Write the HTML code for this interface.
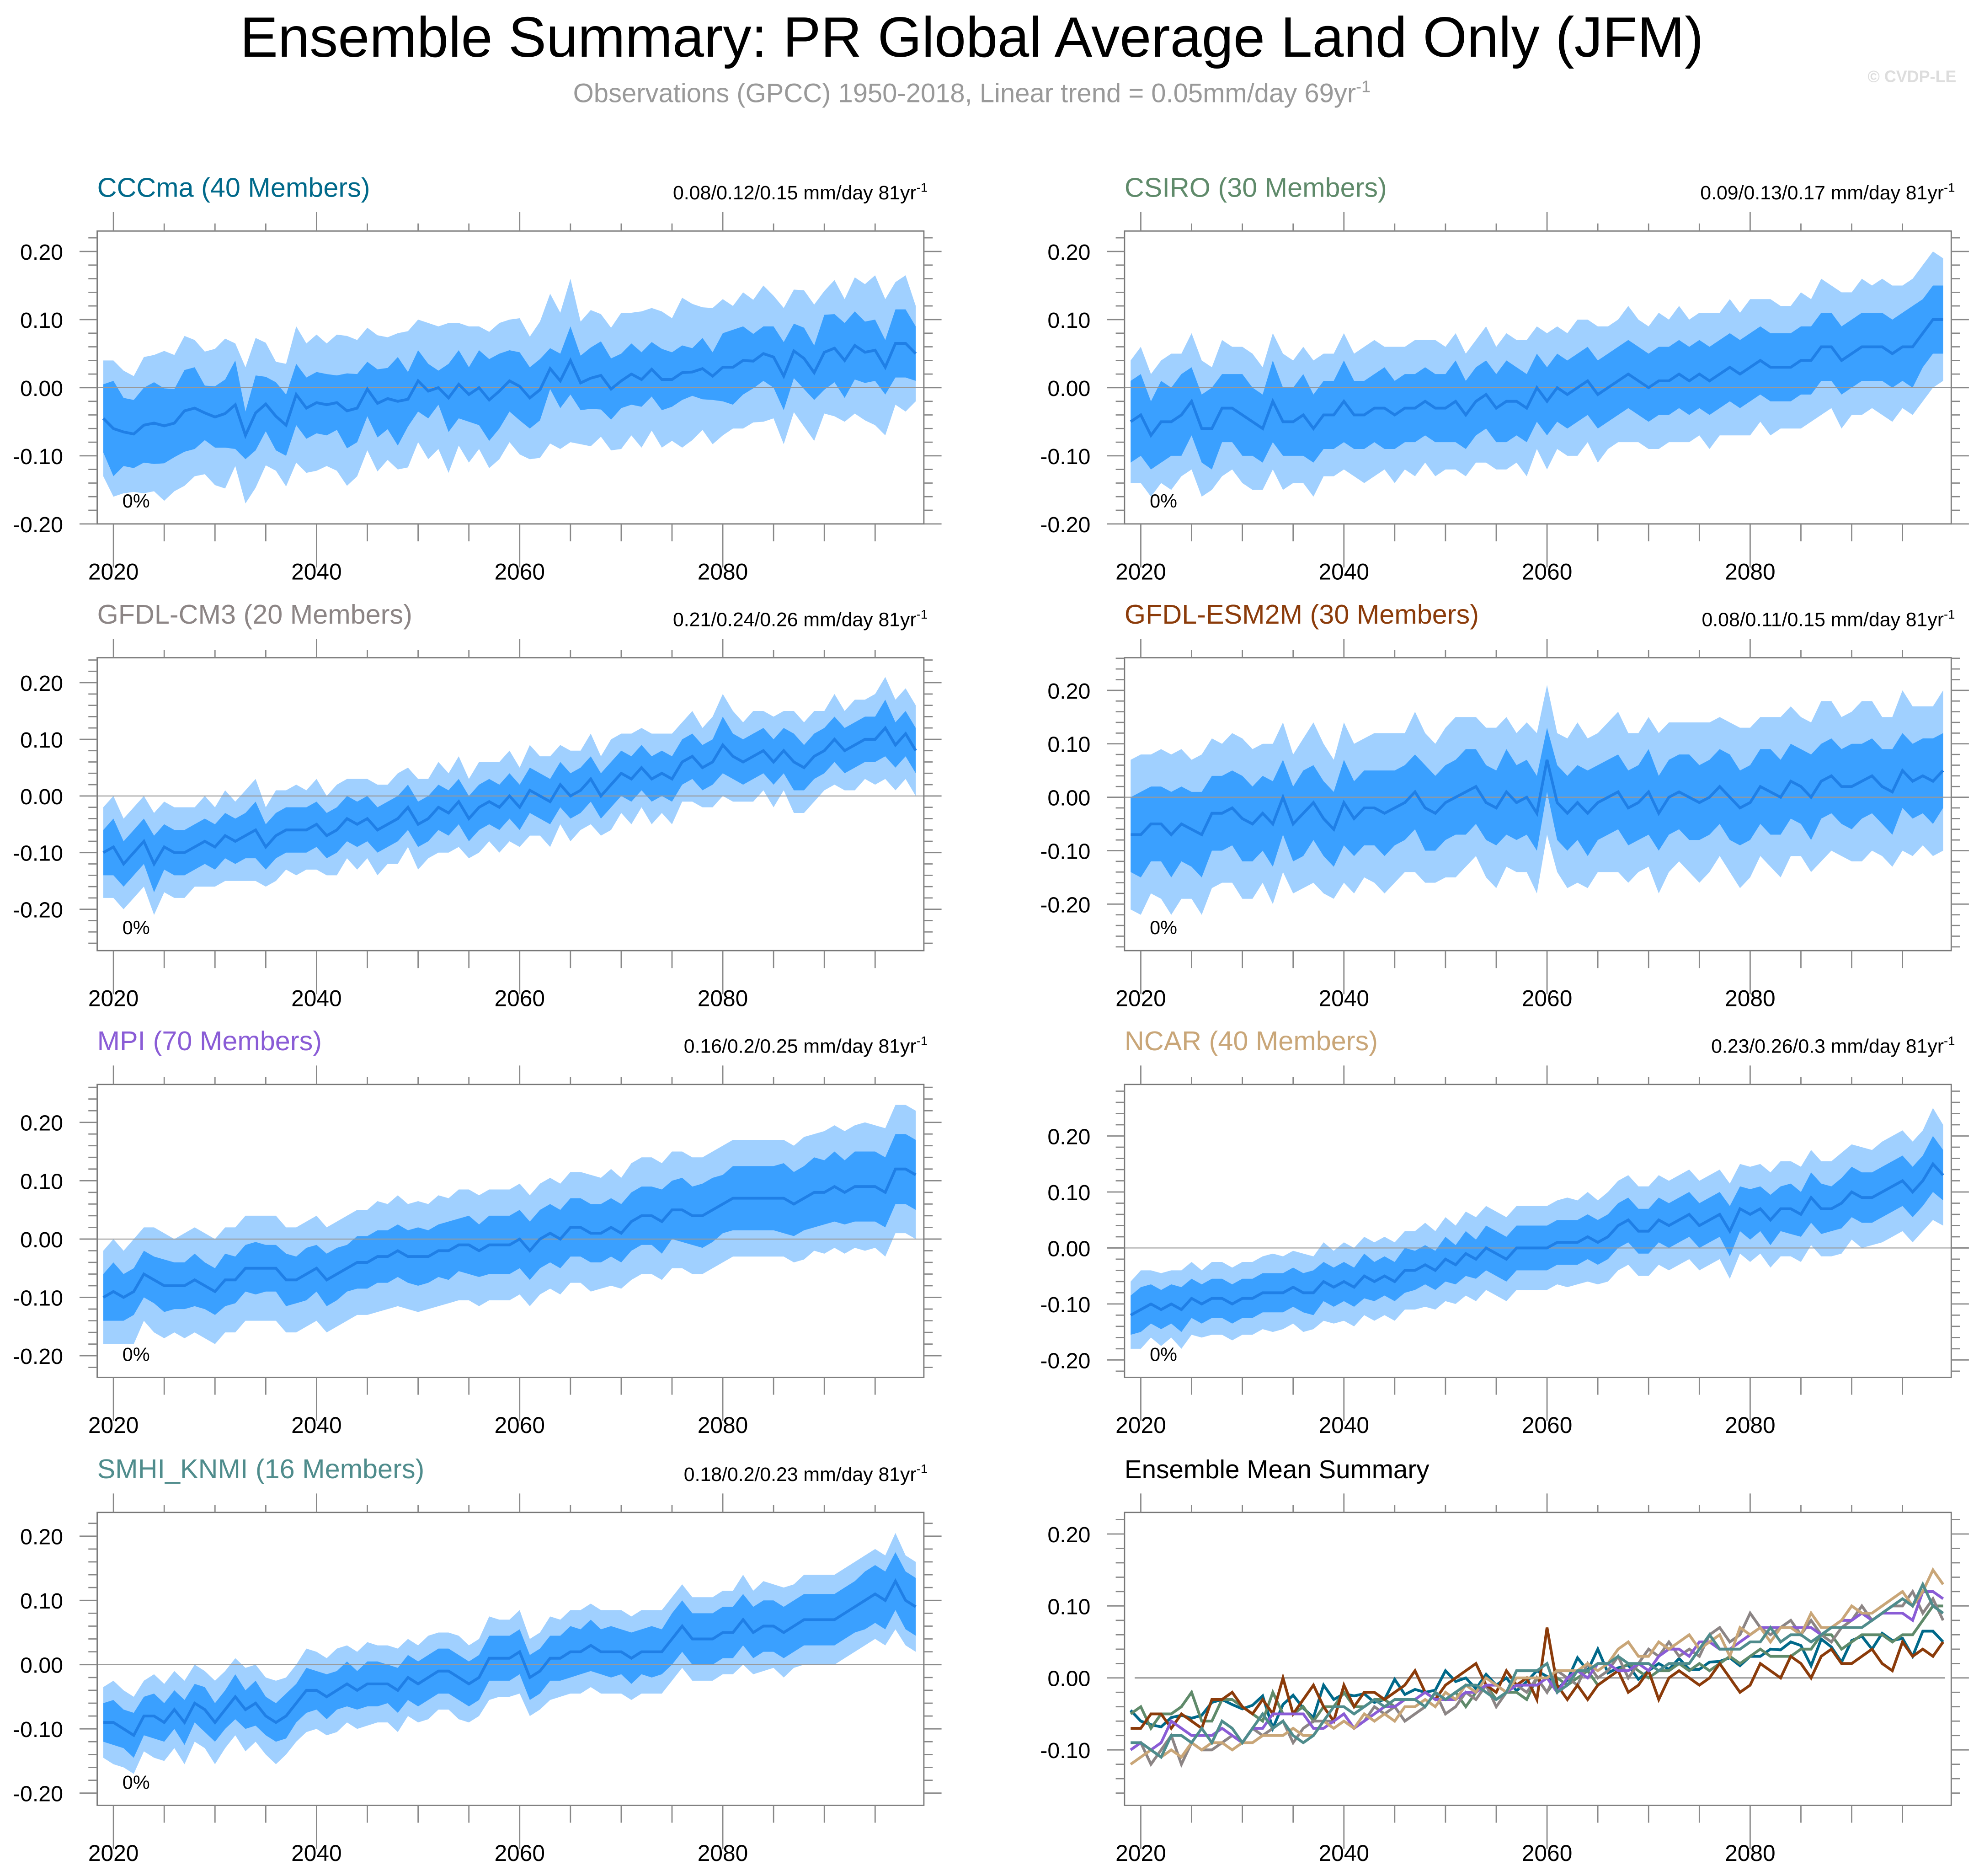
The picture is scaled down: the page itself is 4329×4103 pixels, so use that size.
<!DOCTYPE html>
<html><head><meta charset="utf-8"><style>
html,body{margin:0;padding:0;background:#fff}
svg{display:block}
text{font-family:"Liberation Sans",sans-serif}
</style></head><body>
<svg id="chart" xmlns="http://www.w3.org/2000/svg" width="4329" height="4103" viewBox="0 0 1568 1486" preserveAspectRatio="none">
<rect x="0" y="0" width="1568" height="1486" fill="#fff"/>
<text x="770" y="45" font-size="45" text-anchor="middle" fill="#000">Ensemble Summary: PR Global Average Land Only (JFM)</text>
<text x="770" y="81" font-size="21" text-anchor="middle" fill="#999">Observations (GPCC) 1950-2018, Linear trend = 0.05mm/day 69yr<tspan dy="-8" font-size="13">-1</tspan></text>
<text x="1550" y="65" font-size="13" font-weight="bold" text-anchor="end" fill="#ddd">© CVDP-LE</text>
<g id="panels"></g>
</svg>
<script>
// ---- data (years 2019-2099) ----
const startYear = 2019;
const xTicks = [2020, 2040, 2060, 2080];
const yTickLabels = ["-0.20","-0.10","0.00","0.10","0.20"];
const modelNames = ["CCCma (40 Members)","CSIRO (30 Members)","GFDL-CM3 (20 Members)","GFDL-ESM2M (30 Members)","MPI (70 Members)","NCAR (40 Members)","SMHI_KNMI (16 Members)"];
const trendLabels = ["0.08/0.12/0.15 mm/day 81yr","0.09/0.13/0.17 mm/day 81yr","0.21/0.24/0.26 mm/day 81yr","0.08/0.11/0.15 mm/day 81yr","0.16/0.2/0.25 mm/day 81yr","0.23/0.26/0.3 mm/day 81yr","0.18/0.2/0.23 mm/day 81yr"];
const modelColors = ["#00698a","#5f8a6a","#8c8585","#8b3b0a","#8a5cd6","#c9a678","#4f8c8c"];

const meanCCCma = [-.045,-.06,-.065,-.068,-.055,-.052,-.056,-.052,-.034,-.03,
-.037,-.043,-.038,-.025,-.07,-.037,-.024,-.042,-.055,-.01,
-.03,-.022,-.025,-.022,-.034,-.03,-.002,-.023,-.016,-.02,
-.017,.01,-.005,0,-.015,.005,-.01,0,-.018,-.005,
.01,.002,-.015,-.003,.028,.01,.04,.007,.014,.018,
-.002,.01,.02,.012,.027,.012,.012,.022,.023,.028,
.017,.03,.03,.04,.039,.05,.045,.017,.054,.043,
.022,.052,.058,.04,.062,.052,.055,.03,.065,.065,.05];
const innerCCCma = [.05,.07,.05,.05,.055,.06,.055,.05,.06,.06,.04,.045,.05,.065,.035,.055,.04,.05,.045,.045,
.045,.045,.045,.04,.055,.05,.04,.05,.045,.065,.04,.045,.04,.025,.05,.05,.04,.055,.06,.055,
.045,.05,.045,.045,.03,.04,.05,.04,.045,.05,.045,.04,.045,.04,.04,.045,.04,.04,.035,.045,
.035,.05,.055,.05,.04,.04,.045,.05,.04,.045,.04,.055,.05,.055,.05,.045,.045,.04,.05,.05,.04];
const outerCCCma = [.085,.10,.09,.085,.10,.10,.11,.10,.11,.10,.09,.10,.11,.09,.10,.11,.09,.08,.09,.10,
.095,.10,.09,.10,.11,.10,.09,.10,.09,.10,.10,.09,.10,.09,.11,.09,.10,.09,.10,.10,
.09,.10,.09,.10,.11,.10,.12,.09,.10,.09,.09,.10,.09,.10,.09,.10,.09,.11,.10,.09,
.10,.10,.09,.10,.09,.10,.09,.10,.09,.10,.10,.09,.10,.09,.10,.10,.11,.10,.09,.10,.07];

const meanCSIRO = [-.05,-.04,-.07,-.05,-.05,-.04,-.02,-.06,-.06,-.03,
-.03,-.04,-.05,-.06,-.02,-.05,-.05,-.04,-.06,-.04,
-.04,-.02,-.04,-.04,-.03,-.03,-.04,-.03,-.03,-.02,
-.03,-.03,-.02,-.04,-.02,-.01,-.03,-.02,-.02,-.03,
0,-.02,0,-.01,0,.01,-.01,0,.01,.02,
.01,0,.01,.01,.02,.01,.02,.01,.02,.03,
.02,.03,.04,.03,.03,.03,.04,.04,.06,.06,
.04,.05,.06,.06,.06,.05,.06,.06,.08,.10,.10];
const innerCSIRO = [.06,.06,.05,.06,.05,.06,.05,.05,.06,.05,.05,.06,.05,.05,.06,.05,.05,.06,.05,.05,
.05,.06,.05,.05,.05,.06,.05,.05,.05,.05,.05,.05,.06,.05,.05,.05,.05,.06,.05,.05,
.05,.05,.05,.05,.05,.05,.05,.05,.05,.05,.05,.05,.05,.05,.05,.05,.05,.05,.05,.05,
.05,.05,.05,.05,.05,.05,.05,.05,.05,.05,.05,.05,.05,.05,.05,.05,.05,.06,.05,.05,.05];
const outerCSIRO = [.09,.10,.09,.09,.10,.09,.10,.10,.09,.10,.09,.10,.10,.09,.10,.10,.09,.10,.10,.09,
.09,.10,.09,.10,.10,.09,.10,.09,.10,.09,.10,.09,.10,.09,.09,.10,.09,.10,.09,.10,
.09,.10,.09,.09,.10,.09,.10,.09,.09,.10,.09,.09,.10,.09,.10,.09,.09,.10,.09,.10,
.09,.10,.09,.10,.09,.09,.10,.09,.10,.09,.10,.09,.10,.09,.10,.10,.09,.10,.10,.10,.09];

const meanCM3 = [-.10,-.09,-.12,-.10,-.08,-.12,-.09,-.10,-.10,-.09,
-.08,-.09,-.07,-.08,-.07,-.06,-.09,-.07,-.06,-.06,
-.06,-.05,-.07,-.06,-.04,-.05,-.04,-.06,-.05,-.04,
-.02,-.05,-.04,-.02,-.03,-.01,-.04,-.02,-.01,-.02,
0,-.02,.01,0,-.01,.02,0,.01,.03,0,
.02,.04,.03,.05,.03,.04,.03,.06,.07,.05,
.06,.09,.07,.06,.07,.08,.06,.08,.06,.05,
.07,.08,.10,.08,.09,.10,.10,.12,.09,.11,.08];
const innerCM3 = [.04,.05,.04,.04,.04,.05,.04,.04,.04,.04,.04,.04,.04,.04,.04,.05,.04,.04,.04,.04,
.04,.04,.04,.04,.04,.04,.04,.04,.04,.04,.04,.04,.04,.04,.04,.04,.04,.04,.04,.04,
.04,.04,.04,.04,.04,.04,.04,.04,.04,.04,.04,.04,.04,.04,.04,.04,.04,.04,.04,.04,
.04,.05,.04,.04,.04,.04,.04,.04,.05,.04,.04,.04,.04,.04,.04,.04,.04,.05,.04,.04,.04];
const outerCM3 = [.08,.09,.08,.08,.08,.09,.08,.08,.08,.07,.08,.07,.08,.07,.08,.09,.07,.08,.07,.08,
.07,.08,.07,.08,.07,.08,.07,.08,.07,.08,.07,.08,.07,.08,.07,.08,.07,.08,.07,.08,
.08,.07,.08,.07,.08,.07,.08,.07,.08,.07,.08,.07,.08,.07,.08,.07,.08,.07,.08,.07,
.08,.09,.08,.07,.08,.07,.08,.07,.09,.08,.08,.07,.08,.07,.08,.07,.08,.09,.08,.08,.08];

const meanESM2M = [-.07,-.07,-.05,-.05,-.07,-.05,-.06,-.07,-.03,-.03,
-.02,-.04,-.05,-.03,-.05,0,-.05,-.03,-.01,-.04,
-.06,-.01,-.04,-.02,-.02,-.03,-.02,-.01,.01,-.02,
-.03,-.01,0,.01,.02,-.01,-.02,.01,-.01,0,
-.03,.07,-.01,-.03,-.01,-.03,-.01,.00,.01,-.02,
-.01,.01,-.03,0,.01,0,-.01,0,.02,0,
-.02,-.01,.02,.01,0,.03,.02,0,.03,.04,
.02,.02,.03,.04,.02,.01,.05,.03,.04,.03,.05];
const innerESM2M = [.07,.08,.07,.07,.08,.07,.07,.08,.07,.07,.07,.08,.07,.07,.08,.07,.07,.08,.07,.07,
.07,.08,.07,.07,.07,.08,.07,.07,.07,.08,.07,.07,.07,.08,.07,.07,.07,.08,.07,.07,
.07,.06,.07,.07,.07,.08,.07,.07,.07,.07,.07,.08,.07,.07,.07,.08,.07,.07,.07,.08,
.07,.07,.07,.08,.07,.07,.07,.08,.07,.07,.07,.08,.07,.07,.07,.08,.07,.07,.07,.08,.07];
const outerESM2M = [.14,.15,.13,.14,.15,.14,.13,.15,.14,.13,.14,.15,.14,.13,.15,.14,.13,.14,.15,.14,
.13,.15,.14,.13,.14,.15,.14,.13,.15,.14,.13,.14,.15,.14,.13,.14,.15,.14,.13,.14,
.15,.14,.13,.14,.15,.14,.13,.14,.15,.14,.13,.14,.15,.14,.13,.14,.15,.14,.13,.14,
.15,.14,.13,.14,.15,.14,.13,.14,.15,.14,.13,.14,.15,.14,.13,.14,.15,.14,.13,.14,.15];

const meanMPI = [-.10,-.09,-.10,-.09,-.06,-.07,-.08,-.08,-.08,-.07,
-.08,-.09,-.07,-.07,-.05,-.05,-.05,-.05,-.07,-.07,
-.06,-.05,-.07,-.06,-.05,-.04,-.04,-.03,-.03,-.02,
-.03,-.03,-.03,-.02,-.02,-.01,-.01,-.02,-.01,-.01,
-.01,0,-.02,0,.01,0,.02,.02,.01,.01,
.02,.01,.03,.04,.04,.03,.05,.05,.04,.04,
.05,.06,.07,.07,.07,.07,.07,.07,.06,.07,
.08,.08,.09,.08,.09,.09,.09,.08,.12,.12,.11];
const innerMPI = [.04,.05,.04,.04,.04,.04,.045,.04,.04,.045,.04,.04,.045,.04,.04,.045,.04,.04,.045,.04,
.045,.04,.045,.045,.04,.045,.045,.045,.045,.045,.045,.05,.045,.045,.05,.045,.05,.045,.05,.05,
.05,.05,.05,.05,.05,.05,.05,.05,.05,.05,.05,.05,.05,.05,.05,.055,.05,.055,.05,.055,
.055,.05,.055,.055,.055,.055,.055,.06,.055,.055,.06,.055,.06,.055,.06,.06,.06,.06,.06,.06,.06];
const outerMPI = [.08,.09,.08,.09,.08,.09,.09,.08,.09,.09,.09,.09,.09,.09,.09,.09,.09,.09,.09,.09,
.09,.09,.09,.09,.09,.09,.09,.095,.09,.095,.09,.095,.09,.095,.09,.095,.095,.095,.095,.095,
.095,.095,.095,.095,.095,.095,.095,.095,.10,.095,.10,.095,.10,.10,.10,.10,.10,.10,.10,.10,
.10,.10,.10,.10,.10,.10,.10,.10,.10,.105,.10,.105,.105,.105,.105,.11,.105,.11,.11,.11,.11];

const meanNCAR = [-.12,-.11,-.10,-.11,-.10,-.11,-.09,-.10,-.09,-.09,
-.10,-.09,-.09,-.08,-.08,-.08,-.07,-.08,-.08,-.06,
-.07,-.06,-.07,-.05,-.06,-.05,-.06,-.04,-.04,-.03,
-.04,-.02,-.03,-.01,-.02,0,-.01,-.02,0,0,
0,0,.01,.01,.01,.02,.01,.02,.04,.05,
.03,.03,.05,.04,.05,.06,.04,.05,.06,.03,
.07,.06,.07,.05,.07,.07,.06,.09,.07,.07,
.08,.10,.09,.09,.10,.11,.12,.10,.12,.15,.13];
const innerNCAR = [.035,.04,.035,.035,.035,.04,.035,.035,.035,.035,.035,.035,.035,.035,.035,.035,.035,.035,.04,.035,
.035,.035,.035,.04,.035,.035,.035,.04,.035,.035,.035,.04,.035,.04,.035,.04,.04,.04,.04,.04,
.04,.04,.04,.04,.04,.04,.04,.04,.04,.04,.04,.04,.04,.04,.04,.04,.04,.04,.04,.045,
.04,.045,.04,.045,.04,.045,.04,.045,.045,.04,.045,.045,.045,.045,.045,.045,.045,.045,.045,.05,.045];
const outerNCAR = [.06,.07,.06,.065,.06,.07,.065,.06,.065,.065,.065,.065,.065,.065,.07,.065,.065,.07,.065,.07,
.065,.07,.07,.07,.07,.07,.07,.07,.07,.075,.07,.075,.07,.075,.075,.075,.075,.075,.075,.075,
.075,.075,.075,.08,.075,.08,.075,.08,.08,.08,.08,.08,.08,.08,.08,.08,.08,.08,.08,.085,
.08,.085,.08,.085,.085,.085,.085,.085,.085,.085,.09,.085,.09,.085,.09,.09,.09,.09,.09,.10,.09];

const meanSMHI = [-.09,-.09,-.10,-.11,-.08,-.08,-.09,-.07,-.09,-.06,
-.07,-.09,-.07,-.05,-.07,-.06,-.08,-.09,-.08,-.06,
-.04,-.04,-.05,-.04,-.03,-.04,-.03,-.03,-.03,-.04,
-.02,-.03,-.02,-.01,-.01,-.02,-.03,-.02,.01,.01,
.01,.02,-.02,-.01,.01,.01,.02,.02,.03,.02,
.02,.02,.01,.02,.02,.02,.04,.06,.04,.04,
.04,.05,.05,.07,.05,.06,.06,.05,.06,.07,
.07,.07,.07,.08,.09,.10,.11,.10,.13,.10,.09];
const innerSMHI = [.03,.035,.03,.035,.03,.035,.03,.03,.035,.03,.035,.03,.03,.035,.03,.035,.03,.03,.035,.03,
.035,.03,.035,.03,.035,.03,.035,.035,.03,.035,.035,.035,.035,.035,.035,.035,.035,.035,.035,.035,
.035,.035,.035,.035,.035,.035,.04,.035,.04,.035,.04,.035,.04,.035,.04,.035,.04,.04,.04,.04,
.04,.04,.04,.04,.04,.04,.04,.04,.04,.04,.04,.04,.04,.04,.04,.045,.045,.045,.045,.045,.045];
const outerSMHI = [.055,.065,.06,.06,.055,.065,.06,.06,.065,.06,.06,.065,.06,.06,.065,.06,.06,.065,.06,.06,
.065,.06,.06,.065,.06,.06,.065,.06,.06,.065,.06,.06,.065,.06,.06,.065,.06,.06,.065,.06,
.06,.065,.06,.06,.065,.06,.065,.065,.065,.065,.065,.065,.065,.065,.065,.065,.065,.065,.065,.065,
.065,.065,.065,.07,.065,.07,.065,.07,.065,.07,.07,.07,.07,.07,.07,.07,.07,.07,.075,.07,.07];

const means = [meanCCCma, meanCSIRO, meanCM3, meanESM2M, meanMPI, meanNCAR, meanSMHI];
const inners = [innerCCCma, innerCSIRO, innerCM3, innerESM2M, innerMPI, innerNCAR, innerSMHI];
const outers = [outerCCCma, outerCSIRO, outerCM3, outerESM2M, outerMPI, outerNCAR, outerSMHI];
const yMins = [-0.20,-0.20,-0.273,-0.287,-0.237,-0.231,-0.219,-0.177];
const yMaxs = [0.23,0.23,0.244,0.261,0.265,0.292,0.237,0.23];

// ---- layout ----
const NS = "http://www.w3.org/2000/svg";
const root = document.getElementById("panels");
const colX = [77, 891], rowY = [183, 521, 859, 1198];
const PW = 655, PH = 232;
const X0 = 2018.4, X1 = 2099.8;
function mk(tag, attrs, parent) {
  const e = document.createElementNS(NS, tag);
  for (const k in attrs) e.setAttribute(k, attrs[k]);
  parent.appendChild(e);
  return e;
}
function fmt(v){ return (Math.abs(v)<1e-9?0:v).toFixed(2); }

for (let p = 0; p < 8; p++) {
  const px = colX[p % 2], py = rowY[Math.floor(p / 2)];
  const ymin = yMins[p], ymax = yMaxs[p];
  const sx = yr => px + (yr - X0) / (X1 - X0) * PW;
  const sy = v => py + (ymax - v) / (ymax - ymin) * PH;
  const g = mk("g", {}, root);
  
  

  const t = mk("text", {x: px, y: py - 27, "font-size": p < 7 ? 21.5 : 20.5, fill: p < 7 ? modelColors[p] : "#000"}, g);
  t.textContent = p < 7 ? modelNames[p] : "Ensemble Mean Summary";
  
  
  if (p < 7) {
    const tr = mk("text", {x: px + PW + 3, y: py - 25, "font-size": 15.5, "text-anchor": "end", fill: "#000"}, g);
    tr.textContent = trendLabels[p];
    const sup = mk("tspan", {dy: -6, "font-size": 10}, tr);
    sup.textContent = "-1";
    
    
  }

  const clipId = "clip" + p;
  const cp = mk("clipPath", {id: clipId}, g);
  mk("rect", {x: px, y: py, width: PW, height: PH}, cp);
  const dg = mk("g", {"clip-path": "url(#" + clipId + ")"}, g);
  if (p < 7) {
    const m = means[p], inn = inners[p], out = outers[p];
    const band = (arr, sgn) => m.map((v, i) => [sx(startYear + i), sy(v + sgn * arr[i])]);
    const poly = (hi, lo) => hi.concat(lo.slice().reverse()).map(q => q[0].toFixed(2) + "," + q[1].toFixed(2)).join(" ");
    const ob = mk("polygon", {points: poly(band(out, 1), band(out, -1)), fill: "#a0d0ff"}, dg);
    
    
    const ib = mk("polygon", {points: poly(band(inn, 1), band(inn, -1)), fill: "#3aa0ff"}, dg);
    
    
    const zl = mk("line", {x1: px, x2: px + PW, y1: sy(0), y2: sy(0), stroke: "#999", "stroke-width": 0.8}, dg);
    
    
    const ml = mk("polyline", {points: m.map((v, i) => sx(startYear + i).toFixed(2) + "," + sy(v).toFixed(2)).join(" "), fill: "none", stroke: "#1f7fe6", "stroke-width": 2.2}, dg);
    
    
    const pc = mk("text", {x: px + 20, y: py + PH - 13, "font-size": 15, fill: "#000"}, g);
    pc.textContent = "0%";
    
    
  } else {
    const zl = mk("line", {x1: px + 8, x2: px + PW - 5, y1: sy(0), y2: sy(0), stroke: "#888", "stroke-width": 1}, dg);
    
    
    for (let k = 0; k < 7; k++) {
      const l = mk("polyline", {points: means[k].map((v, i) => sx(startYear + i).toFixed(2) + "," + sy(v).toFixed(2)).join(" "), fill: "none", stroke: modelColors[k], "stroke-width": 2.2}, dg);
      
      
    }
  }

  const fr = mk("rect", {x: px, y: py, width: PW, height: PH, fill: "none", stroke: "#777", "stroke-width": 1}, g);
  
  

  const tg = mk("g", {stroke: "#888", "stroke-width": 1}, g);
  for (let k = Math.ceil(ymin / 0.02 - 1e-6); k <= Math.floor(ymax / 0.02 + 1e-6); k++) {
    const v = k * 0.02, y = sy(v);
    const major = Math.abs(k % 5) === 0;
    const len = major ? 14 : 7;
    mk("line", {x1: px - len, x2: px, y1: y, y2: y}, tg);
    mk("line", {x1: px + PW, x2: px + PW + len, y1: y, y2: y}, tg);
    if (major) {
      const lab = yTickLabels.indexOf(fmt(v));
      const lt = mk("text", {x: px - 27, y: y + 6.5, "font-size": 17.5, "text-anchor": "end", fill: "#000", stroke: "none"}, g);
      lt.textContent = lab >= 0 ? yTickLabels[lab] : fmt(v);
      
      
    }
  }
  for (let yr = 2020; yr <= 2095; yr += 5) {
    const x = sx(yr), major = yr % 20 === 0, len = major ? 15 : 6;
    mk("line", {x1: x, x2: x, y1: py - len, y2: py}, tg);
    mk("line", {x1: x, x2: x, y1: py + PH, y2: py + PH + len * 2.3}, tg);
  }
  xTicks.forEach(yr => {
    const xt = mk("text", {x: sx(yr), y: py + PH + 44, "font-size": 18, "text-anchor": "middle", fill: "#000"}, g);
    xt.textContent = String(yr);
    
    
  });
}
</script>
</body></html>
